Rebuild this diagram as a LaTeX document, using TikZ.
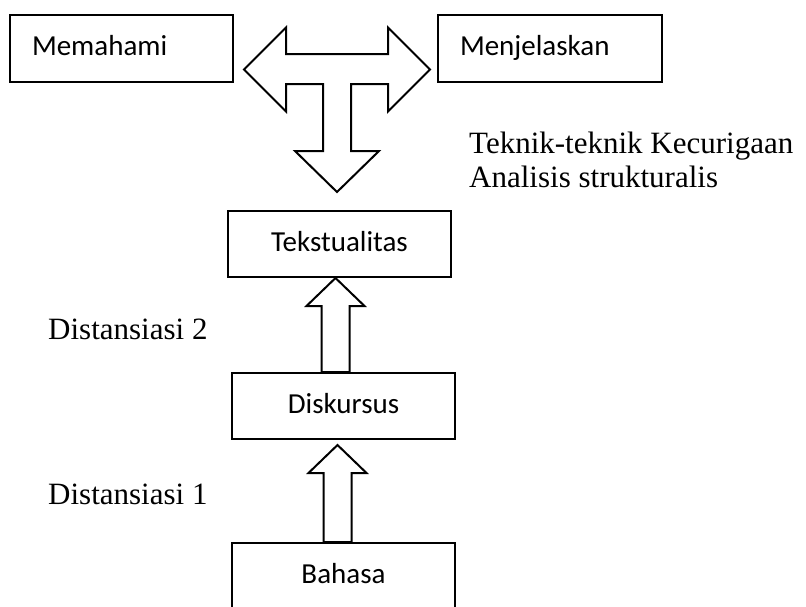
\documentclass[tikz,border=0pt]{standalone}
\usepackage{fontspec}
\setmainfont{Liberation Serif}
\newfontfamily\boxfont{Carlito}
\usepackage{tikz}
\usetikzlibrary{calc, positioning}

% hollow upward block arrow from the top of one box to the bottom of the next
\newcommand{\upblock}[2]{%
    \draw[blockarrow] let \p1=(#1), \p2=(#2) in
        (\x2-14pt,\y1) -- (\x2-14pt,\y2-28pt) -- (\x2-29pt,\y2-28pt) -- (\x2,\y2)
        -- (\x2+29pt,\y2-28pt) -- (\x2+14pt,\y2-28pt) -- (\x2+14pt,\y1) -- cycle;}

\begin{document}
\begin{tikzpicture}[x=1pt, y=-1pt,
    box/.style={draw, line width=2pt, inner sep=0pt, minimum width=223pt, minimum height=67pt,
        text height=20pt, text depth=6pt, font=\boxfont\fontsize{29}{35}\selectfont},
    leftbox/.style={box, text width=179pt, inner xsep=22pt, align=left},
    label/.style={inner sep=0pt, font=\fontsize{31}{34}\selectfont},
    blockarrow/.style={draw, line width=2pt, fill=white}]
    \useasboundingbox (0,0) rectangle (806,606);
    \clip (0,0) rectangle (806,606);

    \node[leftbox] (memahami) at (121.5,48.5) {Memahami};
    \node[leftbox, minimum width=224pt, text width=180pt] (menjelaskan) at (550,48.5) {Menjelaskan};
    \node[box, minimum height=66pt] (tekstualitas) at (339.5,244) {Tekstualitas};
    \node[box, minimum height=66pt] (diskursus) at (343.5,406) {Diskursus};
    \node[box] (bahasa) at (343.5,576.5) {Bahasa};

    \node[label, anchor=base west] (teknik) at (469,153) {Teknik-teknik Kecurigaan};
    \node[label, anchor=base west] (analisis) at ([yshift=-34pt]teknik.base west) {Analisis strukturalis};
    \node[label, anchor=base west] (distansiasi 2) at (48,339) {Distansiasi 2};
    \node[label, anchor=base west] (distansiasi 1) at (48,504) {Distansiasi 1};

    % three-way arrow between the two upper boxes
    \coordinate (hub) at (337,69.5);
    \draw[blockarrow, shift={(hub)}] (-93,0) -- (-51,-42) -- (-51,-15.5) -- (51,-15.5) -- (51,-42)
        -- (93,0) -- (51,42) -- (51,14.5) -- (14,14.5) -- (14,81.5) -- (42,81.5) -- (0,122.5)
        -- (-42,81.5) -- (-14,81.5) -- (-14,14.5) -- (-51,14.5) -- (-51,42) -- cycle;

    \upblock{diskursus.north}{[xshift=-4pt]tekstualitas.south}
    \upblock{bahasa.north}{[xshift=-6pt, yshift=-5pt]diskursus.south}
\end{tikzpicture}
\end{document}
